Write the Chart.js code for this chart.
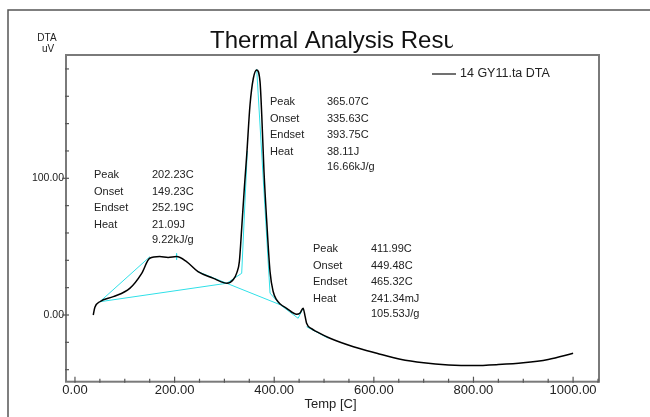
<!DOCTYPE html>
<html>
<head>
<meta charset="utf-8">
<script src="https://cdn.jsdelivr.net/npm/chart.js@4.4.1/dist/chart.umd.min.js"></script>
<style>
  body { margin: 0; background: #fff; }
</style>
</head>
<body>
<canvas id="dta-graph" width="650" height="417"></canvas>
<script>
// DTA trace, temperature in C and signal in uV
var tempC = [36.7, 40, 50, 77, 110, 134, 150, 170, 187, 204, 224, 247, 278, 300, 305, 318, 325, 330, 334.7, 340, 344.8, 351.4, 358, 364.8, 371.5, 375, 379.5, 385, 391.6, 398, 405, 412, 425, 445, 452, 458, 462, 465, 475, 485, 512, 559, 606, 653, 700, 750, 800, 850, 900, 950, 1000];
var dtaUV = [0, 5.6, 9.7, 13.4, 19.5, 30.5, 41.5, 42.7, 42, 42.7, 39, 31.7, 26.8, 23.5, 23.2, 26, 31, 39, 63.4, 92.9, 117, 153.6, 173, 179.2, 170.7, 146, 104.8, 68.3, 31.7, 17, 11, 8, 4.9, 0.5, 1.5, 5, -1, -6, -10, -12.2, -17, -23.2, -28, -32.4, -35, -36.5, -37, -36.3, -35, -32.5, -28];

// tangent and baseline construction lines (pairs of [temp, uV])
var onsetLine1 = [[50, 9.7], [150.6, 42.7]];
var baseLine1 = [[50, 9.7], [304.6, 23.2]];
var peakTick1 = [[204, 45], [204, 40.5]];
var endsetLine1 = [[247, 31.7], [304.6, 23.2]];
var onsetLine2 = [[304.6, 23.2], [334.7, 30.5], [346, 120]];
var endsetLine2 = [[364.8, 180], [391.6, 16], [412, 7.5]];
var baseLine2 = [[304.6, 23.2], [412, 7.5], [448, -2.4], [458, 5]];
var baseLine3 = [[465, -8.6], [508.6, -17]];

var xTicks = [0, 200, 400, 600, 800, 1000];
var yTicks = [0, 100];

// peak result blocks: label column, value column
var resultLabels = ["Peak", "Onset", "Endset", "Heat"];
var peakResults = [
    ["202.23C", "149.23C", "252.19C", "21.09J", "9.22kJ/g"],
    ["365.07C", "335.63C", "393.75C", "38.11J", "16.66kJ/g"],
    ["411.99C", "449.48C", "465.32C", "241.34mJ", "105.53J/g"]
];

const FONT = "'Liberation Sans', Arial, sans-serif";
const CYAN = "#2fe0e8";

function toPoints(arr) {
    return arr.map(function (p) { return { x: p[0], y: p[1] }; });
}

function cyanSet(arr) {
    return {
        data: toPoints(arr),
        borderColor: CYAN,
        borderWidth: 1,
        pointRadius: 0,
        tension: 0,
        order: 2
    };
}

var trace = tempC.map(function (t, i) { return { x: t, y: dtaUV[i] }; });

// free text, frame and inward tick marks
const decorPlugin = {
    id: 'decor',
    afterDraw: function (chart) {
        const ctx = chart.ctx;
        const a = chart.chartArea;
        const xs = chart.scales.x;
        const ys = chart.scales.y;
        ctx.save();

        //outer border
        ctx.strokeStyle = "#555";
        ctx.lineWidth = 1.5;
        ctx.beginPath();
        ctx.moveTo(8, 420);
        ctx.lineTo(8, 10);
        ctx.lineTo(652, 10);
        ctx.stroke();

        //plot frame
        ctx.strokeStyle = "#7a7a7a";
        ctx.lineWidth = 2;
        ctx.strokeRect(a.left, a.top, a.right - a.left, a.bottom - a.top);

        //tick marks
        ctx.lineWidth = 1.2;
        ctx.strokeStyle = "#555";
        for (let v = 0; v <= 1050; v += 50) {
            const px = xs.getPixelForValue(v);
            const major = v % 200 == 0;
            ctx.beginPath();
            ctx.moveTo(px, a.bottom + 1);
            ctx.lineTo(px, a.bottom - (major ? 5 : 3));
            ctx.stroke();
        }
        for (let v = -40; v <= 180; v += 20) {
            const py = ys.getPixelForValue(v);
            const major = v % 100 == 0;
            ctx.beginPath();
            ctx.moveTo(a.left - (major ? 4 : 1), py);
            ctx.lineTo(a.left + 3, py);
            ctx.stroke();
        }

        //title, clipped like the original report header
        ctx.save();
        ctx.beginPath();
        ctx.rect(0, 0, 453, 60);
        ctx.clip();
        ctx.fillStyle = "#111";
        ctx.font = "24px " + FONT;
        ctx.textAlign = "left";
        ctx.textBaseline = "alphabetic";
        ctx.fillText("Thermal Analysis Result", 210, 48);
        ctx.restore();

        //y axis caption
        ctx.fillStyle = "#222";
        ctx.font = "10px " + FONT;
        ctx.textAlign = "center";
        ctx.textBaseline = "middle";
        ctx.fillText("DTA", 47, 38);
        ctx.fillText("uV", 48, 49);

        //x axis caption
        ctx.font = "13px " + FONT;
        ctx.fillText("Temp [C]", (a.left + a.right) / 2 - 2, 404);

        //legend
        ctx.strokeStyle = "#111";
        ctx.lineWidth = 1.2;
        ctx.beginPath();
        ctx.moveTo(432, 74);
        ctx.lineTo(456, 74);
        ctx.stroke();
        ctx.textAlign = "left";
        ctx.font = "12.5px " + FONT;
        ctx.fillText("14 GY11.ta DTA", 460, 74);

        //peak result blocks
        const blockPos = [[94, 152, 175], [270, 327, 102], [313, 371, 249]];
        const rowGap = [0, 17, 33, 50, 65];
        ctx.font = "11px " + FONT;
        peakResults.forEach(function (vals, b) {
            const bp = blockPos[b];
            resultLabels.forEach(function (lab, r) {
                ctx.fillText(lab, bp[0], bp[2] + rowGap[r]);
            });
            vals.forEach(function (val, r) {
                ctx.fillText(val, bp[1], bp[2] + rowGap[r]);
            });
        });

        ctx.restore();
    }
};

const graph = document.getElementById('dta-graph');
new Chart(graph, {
    type: "line",
    data: {
        datasets: [
            {
                data: trace,
                borderColor: "#000",
                borderWidth: 1.5,
                pointRadius: 0,
                cubicInterpolationMode: "monotone",
                order: 1
            },
            cyanSet(onsetLine1),
            cyanSet(baseLine1),
            cyanSet(peakTick1),
            cyanSet(endsetLine1),
            cyanSet(onsetLine2),
            cyanSet(endsetLine2),
            cyanSet(baseLine2),
            cyanSet(baseLine3)
        ]
    },
    options: {
        responsive: false,
        animation: false,
        devicePixelRatio: 1,
        layout: { padding: { left: 0, top: 55, right: 51, bottom: 0 } },
        plugins: {
            legend: { display: false },
            tooltip: { enabled: false }
        },
        scales: {
            x: {
                type: "linear",
                min: -18,
                max: 1052,
                afterFit: function (s) { s.height = 35.3; },
                afterBuildTicks: function (s) {
                    s.ticks = xTicks.map(function (v) { return { value: v }; });
                },
                grid: { display: false, drawTicks: false },
                border: { display: false },
                ticks: {
                    padding: 1,
                    color: "#222",
                    font: { family: FONT, size: 13 },
                    maxRotation: 0,
                    callback: function (v) { return v.toFixed(2); }
                }
            },
            y: {
                min: -48.8,
                max: 190.2,
                afterFit: function (s) { s.width = 66; },
                afterBuildTicks: function (s) {
                    s.ticks = yTicks.map(function (v) { return { value: v }; });
                },
                grid: { display: false, drawTicks: false },
                border: { display: false },
                ticks: {
                    padding: 2,
                    color: "#222",
                    font: { family: FONT, size: 10.5 },
                    callback: function (v) { return v.toFixed(2); }
                }
            }
        }
    },
    plugins: [decorPlugin]
});
</script>
</body>
</html>
